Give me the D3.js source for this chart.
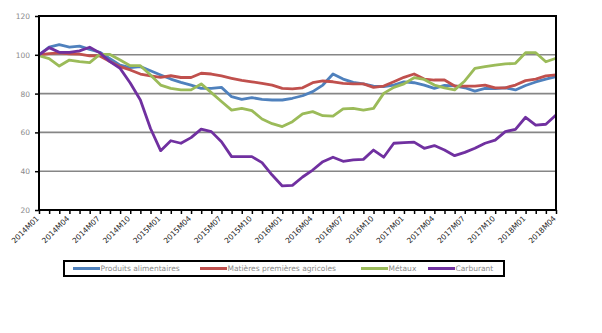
<!DOCTYPE html>
<html><head><meta charset="utf-8">
<script src="https://cdn.jsdelivr.net/npm/d3@7"></script>
<style>body{margin:0;background:#fff}svg{display:block}</style>
</head><body>
<svg id="c" width="602" height="333"></svg>
<script>
const months = [];
for (let y = 2014; y <= 2018; y++) for (let m = 1; m <= 12; m++) {
  if (y === 2018 && m > 4) break;
  months.push(y + "M" + String(m).padStart(2, "0"));
}
const tickLabels = months.filter((d, i) => i % 3 === 0);
const yTicks = [20, 40, 60, 80, 100, 120];
const seriesNames = ["Produits alimentaires", "Matières premières agricoles", "Métaux", "Carburant"];
const colors = ["#4F81BD", "#C0504D", "#9BBB59", "#7030A0"];

const food = [100,104,105.2,104,104.5,102.8,101.3,98,94.7,93.4,93.9,91.8,89.6,87.5,85.8,84.4,
  82.7,82.7,83.2,78.4,77,77.9,77,76.7,76.7,77.6,78.9,81,84.4,90.1,87.5,85.8,85,83.9,83.6,84.4,
  86,85.6,84.4,82.7,84.2,84,83,81.3,82.7,82.6,83,81.9,84.2,86,87.5,88.7];
const agri = [100,100.6,101,100.5,100.4,99.5,99.4,96.5,93.9,92.2,90.1,89.1,88.4,89.2,88.3,88.3,
  90.5,90.1,89.1,87.9,86.8,86.1,85.3,84.4,82.7,82.4,83,85.6,86.5,86.1,85.3,85,85,83.2,83.9,86.1,
  88.4,90.1,87.5,87,87,83.9,83.9,83.9,84.4,83,83,84.4,86.7,87.5,89.1,89.6];
const metals = [99.5,98,94.2,97.3,96.5,96,100.2,100.2,97.3,94.4,94.4,89.6,84.4,82.7,81.9,81.9,
  85,80.5,75.9,71.5,72.4,71.2,66.9,64.5,63,65.5,69.5,70.7,68.6,68.4,72.1,72.4,71.5,72.4,80.1,83.2,
  85,88.2,87.3,84.4,83,81.9,86.5,93,93.9,94.7,95.3,95.6,101.1,101.1,96.4,98.2];
const fuel = [100,103.7,101.3,101.2,102,103.9,101,96.5,93,85.5,76.7,62,50.6,55.7,54.4,57.3,
  61.7,60.4,55.2,47.5,47.5,47.5,44.4,38,32.4,32.7,37,40.6,44.9,47.2,45.1,45.8,46.1,50.9,47.2,54.4,
  54.7,55,51.8,53.2,50.9,48,49.7,51.8,54.4,56,60.4,61.6,67.8,63.8,64.2,69];
const seriesData = [food, agri, metals, fuel];

const svg = d3.select("#c");
const L = 39, R = 556, T = 16, B = 210;
const x = d3.scalePoint().domain(months).range([L, R]);
const y = d3.scaleLinear().domain([20, 120]).range([B, T]);
const font = "DejaVu Sans, Verdana, sans-serif";

// gridlines
svg.append("g").selectAll("line").data(yTicks.filter(v => v > 20 && v < 120)).join("line")
  .attr("x1", L).attr("x2", R).attr("y1", d => y(d)).attr("y2", d => y(d))
  .attr("stroke", "#868686").attr("stroke-width", 1.6);

// y axis
const yAxis = svg.append("g").attr("transform", `translate(${L},0)`)
  .call(d3.axisLeft(y).tickValues(yTicks).tickSize(4).tickPadding(5));
yAxis.select(".domain").remove();
yAxis.selectAll("line").attr("stroke", "#000").attr("stroke-width", 1.5);
yAxis.selectAll("text").attr("fill", "#8a8a8a").style("font-family", font).style("font-size", "7.5px");

// x axis
const xAxis = svg.append("g").attr("transform", `translate(0,${B})`)
  .call(d3.axisBottom(x).tickSize(4).tickFormat(d => tickLabels.includes(d) ? d : ""));
xAxis.select(".domain").remove();
xAxis.selectAll("line").attr("stroke", "#000").attr("stroke-width", 1.5);
xAxis.selectAll("text").attr("fill", "#222").style("font-family", font).style("font-size", "7.5px")
  .attr("text-anchor", "end").attr("dy", 0).attr("y", 0)
  .attr("transform", "translate(0,9) rotate(-45)");

// lines
const line = d3.line().x((d, i) => x(months[i])).y(d => y(d));
svg.append("g").selectAll("path").data(seriesData).join("path")
  .attr("d", line).attr("fill", "none")
  .attr("stroke", (d, i) => colors[i]).attr("stroke-width", 2.8)
  .attr("stroke-linejoin", "round");

// plot border
svg.append("rect").attr("x", L).attr("y", T).attr("width", R - L).attr("height", B - T)
  .attr("fill", "none").attr("stroke", "#000").attr("stroke-width", 2);

// legend
const lg = svg.append("g");
lg.append("rect").attr("x", 64).attr("y", 261).attr("width", 440).attr("height", 15)
  .attr("fill", "#fff").attr("stroke", "#000").attr("stroke-width", 2);
const legX = [73, 200, 361, 428];
seriesNames.forEach((n, i) => {
  lg.append("line").attr("x1", legX[i]).attr("x2", legX[i] + 27).attr("y1", 268.5).attr("y2", 268.5)
    .attr("stroke", colors[i]).attr("stroke-width", 3);
  lg.append("text").attr("x", legX[i] + 27.5).attr("y", 271.3).text(n)
    .attr("fill", "#8a8a8a").style("font-family", font).style("font-size", "7.5px");
});
</script>
</body></html>
